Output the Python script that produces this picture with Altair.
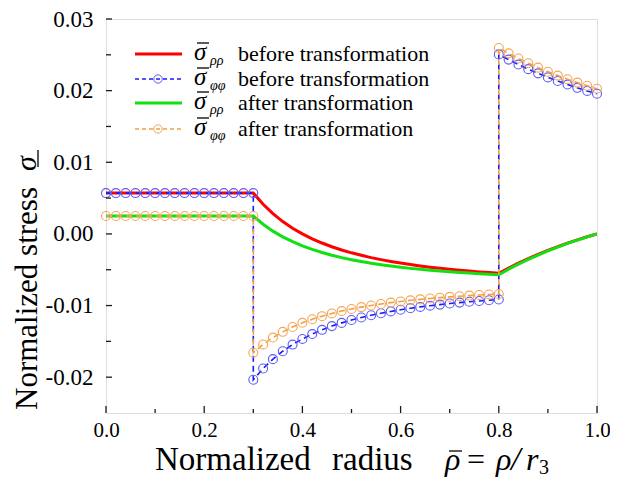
import altair as alt
import pandas as pd

# ---- data ----
x_inner = [0.00, 0.02, 0.04, 0.06, 0.08, 0.10, 0.12, 0.14, 0.16, 0.18, 0.20, 0.22, 0.24, 0.26, 0.28, 0.30]
x_middle = [0.30, 0.32, 0.34, 0.36, 0.38, 0.40, 0.42, 0.44, 0.46, 0.48, 0.50, 0.52, 0.54,
            0.56, 0.58, 0.60, 0.62, 0.64, 0.66, 0.68, 0.70, 0.72, 0.74, 0.76, 0.78, 0.80]
x_outer = [0.80, 0.82, 0.84, 0.86, 0.88, 0.90, 0.92, 0.94, 0.96, 0.98, 1.00]

# sigma_rho_rho before transformation
rr_before_inner = [0.0057, 0.0057, 0.0057, 0.0057, 0.0057, 0.0057, 0.0057, 0.0057,
                   0.0057, 0.0057, 0.0057, 0.0057, 0.0057, 0.0057, 0.0057, 0.0057]
rr_before_middle = [0.00570, 0.00413, 0.00282, 0.00172, 0.00079, 0.00000, -0.00068, -0.00127,
                    -0.00179, -0.00224, -0.00264, -0.00299, -0.00331, -0.00359, -0.00384, -0.00407,
                    -0.00428, -0.00447, -0.00464, -0.00479, -0.00494, -0.00507, -0.00519, -0.00530,
                    -0.00540, -0.00550]
rr_before_outer = [-0.00550, -0.00476, -0.00408, -0.00344, -0.00285, -0.00229, -0.00177,
                   -0.00129, -0.00083, -0.00040, 0.0]

# sigma_phi_phi before transformation
ff_before_inner = [0.0057, 0.0057, 0.0057, 0.0057, 0.0057, 0.0057, 0.0057, 0.0057,
                   0.0057, 0.0057, 0.0057, 0.0057, 0.0057, 0.0057, 0.0057, 0.0057]
ff_before_middle = [-0.02036, -0.01879, -0.01748, -0.01638, -0.01545, -0.01466, -0.01398, -0.01339,
                    -0.01287, -0.01242, -0.01202, -0.01167, -0.01135, -0.01107, -0.01082, -0.01059,
                    -0.01038, -0.01019, -0.01002, -0.00987, -0.00972, -0.00959, -0.00947, -0.00936,
                    -0.00926, -0.00916]
ff_before_outer = [0.02506, 0.02433, 0.02364, 0.02300, 0.02241, 0.02185, 0.02134,
                   0.02085, 0.02039, 0.01996, 0.01956]

# sigma_rho_rho after transformation
rr_after_inner = [0.0025, 0.0025, 0.0025, 0.0025, 0.0025, 0.0025, 0.0025, 0.0025,
                  0.0025, 0.0025, 0.0025, 0.0025, 0.0025, 0.0025, 0.0025, 0.0025]
rr_after_middle = [0.00250, 0.00135, 0.00039, -0.00041, -0.00109, -0.00167, -0.00217, -0.00260,
                   -0.00298, -0.00331, -0.00360, -0.00386, -0.00409, -0.00430, -0.00449, -0.00465,
                   -0.00481, -0.00494, -0.00507, -0.00518, -0.00529, -0.00538, -0.00547, -0.00555,
                   -0.00563, -0.00570]
rr_after_outer = [-0.00570, -0.00493, -0.00423, -0.00357, -0.00295, -0.00238, -0.00184,
                  -0.00133, -0.00086, -0.00042, 0.0]

# sigma_phi_phi after transformation
ff_after_inner = [0.0025, 0.0025, 0.0025, 0.0025, 0.0025, 0.0025, 0.0025, 0.0025,
                  0.0025, 0.0025, 0.0025, 0.0025, 0.0025, 0.0025, 0.0025, 0.0025]
ff_after_middle = [-0.01658, -0.01543, -0.01447, -0.01367, -0.01299, -0.01241, -0.01191, -0.01148,
                   -0.01110, -0.01077, -0.01048, -0.01022, -0.00999, -0.00978, -0.00959, -0.00943,
                   -0.00927, -0.00914, -0.00901, -0.00890, -0.00879, -0.00870, -0.00861, -0.00853,
                   -0.00845, -0.00838]
ff_after_outer = [0.02596, 0.02520, 0.02449, 0.02383, 0.02321, 0.02264, 0.02210,
                  0.02159, 0.02112, 0.02068, 0.02026]

x_major = [0.0, 0.2, 0.4, 0.6, 0.8, 1.0]
x_minor = [0.1, 0.3, 0.5, 0.7, 0.9]
y_major = [-0.02, -0.01, 0.0, 0.01, 0.02, 0.03]
y_minor = [-0.015, -0.005, 0.005, 0.015, 0.025]

legend_labels = ["before transformation", "before transformation",
                 "after transformation", "after transformation"]
legend_subs = ["ρρ", "φφ", "ρρ", "φφ"]

x_title_words = ["Normalized", "radius"]
y_title_words = ["Normalized stress", "σ"]

# ---- build tables ----
rows = []


def add(series, xs, ys):
    k = len([r for r in rows if r["series"] == series])
    for i, (a, b) in enumerate(zip(xs, ys)):
        rows.append({"series": series, "x": a, "y": b, "order": k + i})


# rho-rho curves are continuous: skip duplicated joints
add("rr_b", x_inner, rr_before_inner)
add("rr_b", x_middle[1:], rr_before_middle[1:])
add("rr_b", x_outer[1:], rr_before_outer[1:])
add("rr_a", x_inner, rr_after_inner)
add("rr_a", x_middle[1:], rr_after_middle[1:])
add("rr_a", x_outer[1:], rr_after_outer[1:])
# phi-phi curves jump at the interfaces
add("ff_b", x_inner, ff_before_inner)
add("ff_b", x_middle, ff_before_middle)
add("ff_b", x_outer, ff_before_outer)
add("ff_a", x_inner, ff_after_inner)
add("ff_a", x_middle, ff_after_middle)
add("ff_a", x_outer, ff_after_outer)

df = pd.DataFrame(rows)

W, H = 491, 394
FONT = "Liberation Serif"

X = alt.X("x:Q",
          scale=alt.Scale(domain=[0, 1], nice=False, zero=False),
          axis=alt.Axis(values=x_major, format=".1f", ticks=False, domain=False, grid=False,
                        labelFont=FONT, labelFontSize=21, labelColor="black", labelPadding=6,
                        labelFlush=False, title=None))
Y = alt.Y("y:Q",
          scale=alt.Scale(domain=[-0.025, 0.03], nice=False, zero=False),
          axis=alt.Axis(values=y_major, ticks=False, domain=False, grid=False,
                        labelExpr="datum.value < 0 ? '-' + format(-datum.value, '.2f') : format(datum.value, '.2f')",
                        labelFont=FONT, labelFontSize=23, labelColor="black", labelPadding=13,
                        labelFlush=False, title=None))

base = alt.Chart(df)


def curve(series, color, width, dash=None):
    kw = dict(color=color, strokeWidth=width, clip=True)
    if dash:
        kw["strokeDash"] = dash
    return base.transform_filter(alt.datum.series == series).mark_line(**kw).encode(
        x=X, y=Y, order="order:Q")


def markers(series, color):
    return base.transform_filter(alt.datum.series == series).mark_point(
        shape="circle", size=80, filled=False, color=color, strokeWidth=1.1, opacity=1
    ).encode(x=X, y=Y)


RED = "#ff0000"
GREEN = "#12e012"
BLUE = "#1a1aff"
BLUE_M = "#5c5cf2"
ORANGE = "#f0a040"
ORANGE_M = "#f5a556"
INK = "#1a1a1a"

layers = [
    curve("rr_b", RED, 3),
    curve("ff_b", BLUE, 1.6, [6, 4]),
    markers("ff_b", BLUE_M),
    curve("rr_a", GREEN, 3),
    curve("ff_a", ORANGE, 1.6, [6, 4]),
    markers("ff_a", ORANGE_M),
]

# inward ticks drawn through the scales
xt_major = alt.Chart(pd.DataFrame({"x": x_major})).mark_rule(color=INK, strokeWidth=1.3).encode(
    x=X, y=alt.value(H), y2=alt.value(H - 7))
xt_minor = alt.Chart(pd.DataFrame({"x": x_minor})).mark_rule(color=INK, strokeWidth=1.3).encode(
    x=X, y=alt.value(H), y2=alt.value(H - 4))
yt_major = alt.Chart(pd.DataFrame({"y": y_major})).mark_rule(color=INK, strokeWidth=1.3).encode(
    y=Y, x=alt.value(0), x2=alt.value(6))
yt_minor = alt.Chart(pd.DataFrame({"y": y_minor})).mark_rule(color=INK, strokeWidth=1.3).encode(
    y=Y, x=alt.value(0), x2=alt.value(5))
layers += [xt_major, xt_minor, yt_major, yt_minor]

one = pd.DataFrame({"k": [0]})


def txt(s, x, y, size, italic=False, angle=0, align="left", baseline="alphabetic"):
    kw = dict(font=FONT, fontSize=size, align=align, baseline=baseline, color="black")
    if italic:
        kw["fontStyle"] = "italic"
    if angle:
        kw["angle"] = angle
    return alt.Chart(one).mark_text(**kw).encode(
        x=alt.value(x), y=alt.value(y), text=alt.value(s))


def bar(x1, x2, y1, y2, w=1.3):
    return alt.Chart(one).mark_rule(color="black", strokeWidth=w).encode(
        x=alt.value(x1), x2=alt.value(x2), y=alt.value(y1), y2=alt.value(y2))


# legend
row_y = [35, 60, 84, 110]
styles = [(RED, 3, None, None), (BLUE, 1.4, [4, 3], BLUE_M),
          (GREEN, 3, None, None), (ORANGE, 1.4, [4, 3], ORANGE_M)]
for ry, (col, w, dash, mcol), lab, sub in zip(row_y, styles, legend_labels, legend_subs):
    kw = dict(color=col, strokeWidth=w)
    if dash:
        kw["strokeDash"] = dash
    layers.append(alt.Chart(one).mark_rule(**kw).encode(
        x=alt.value(29), x2=alt.value(76), y=alt.value(ry)))
    if mcol:
        layers.append(alt.Chart(one).mark_point(shape="circle", size=70, filled=False,
                                                color=mcol, strokeWidth=1, opacity=1).encode(
            x=alt.value(52), y=alt.value(ry)))
    layers.append(txt("σ", 88, ry + 6, 25, italic=True))
    layers.append(bar(91, 103, ry - 11, ry - 11))
    layers.append(txt(sub, 104, ry + 11, 14, italic=True))
    layers.append(txt(lab, 132, ry + 7, 22))

# x-axis title pieces
TY = 451
layers += [
    txt(x_title_words[0], 49, TY, 33),
    txt(x_title_words[1], 226, TY, 33),
    txt("ρ", 339, TY, 32, italic=True),
    bar(343, 356, TY - 19, TY - 19),
    txt("=", 361, TY, 32),
    txt("ρ", 390, TY, 32, italic=True),
    txt("/", 405, TY, 34, italic=True),
    txt("r", 420, TY, 32, italic=True),
    txt("3", 433, TY + 4, 20),
]

# y-axis title pieces (rotated)
layers += [
    txt(y_title_words[0], -69, 391, 31, angle=270),
    txt(y_title_words[1], -70, 152, 30, italic=True, angle=270),
    bar(-68, -68, 131, 148),
]

chart = alt.layer(*layers).properties(
    width=W, height=H,
    autosize=alt.AutoSizeParams(type="none"),
    padding={"left": 98, "top": 11, "right": 13, "bottom": 65},
).configure_view(stroke=INK, strokeWidth=1.6).configure(background="white")

chart.save("out.html", embed_options={"renderer": "svg", "actions": False})
